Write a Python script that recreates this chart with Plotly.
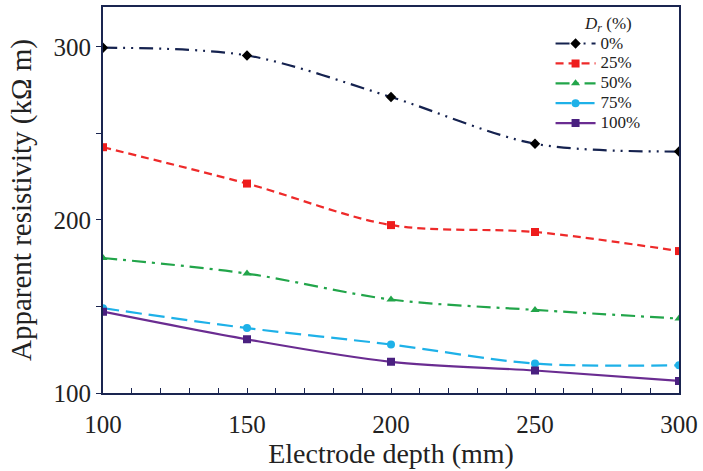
import plotly.graph_objects as go

depth = [100, 150, 200, 250, 300]
dr_labels = ["0%", "25%", "50%", "75%", "100%"]
r0 = [299.5, 295, 271, 244, 239.5]
r25 = [242, 221, 197, 193, 182]
r50 = [178, 169, 154, 148, 143]
r75 = [149, 137.5, 128, 117, 116]
r100 = [147, 131, 118, 113, 107]
series = [r0, r25, r50, r75, r100]

colors = ["#15224f", "#ee2a2a", "#22a54a", "#1eb1e8", "#6a2c91"]
markercolors = ["#000000", "#ee1c1c", "#22a54a", "#1eb1e8", "#4a2080"]
symbols = ["diamond", "square", "triangle-up", "circle", "square-x"]
dashes = ["14px,6px,2px,6px,2px,6px", "8px,5px", "14px,6px,3px,6px", "16px,7px", "solid"]

fig = go.Figure()
for name, ys, c, mc, sym, d in zip(dr_labels, series, colors, markercolors, symbols, dashes):
    fig.add_trace(go.Scatter(
        x=depth, y=ys, name='<span style="font-size:17px">' + name + '</span>',
        mode="lines+markers",
        line=dict(color=c, width=2.2, dash=d, shape="spline", smoothing=0.9),
        marker=dict(color=mc, symbol=sym, size=8, line=dict(width=0)),
    ))

font_family = "Liberation Serif, Times New Roman, serif"
axis_col = "#1a2550"
pad = "&nbsp;" * 10
fig.update_layout(
    width=703, height=471,
    margin=dict(l=103, r=24, t=5, b=78),
    paper_bgcolor="white", plot_bgcolor="white",
    font=dict(family=font_family, color="#222222"),
    showlegend=True,
    legend=dict(
        x=0.777, y=0.988, xanchor="left", yanchor="top",
        bgcolor="rgba(0,0,0,0)", borderwidth=0,
        font=dict(size=13, family=font_family, color="#222222"),
        title=dict(text=pad + '<span style="font-size:17px"><i>D</i><sub><i>r</i></sub> (%)</span>',
                   font=dict(size=13, family=font_family, color="#222222")),
        tracegroupgap=0, itemwidth=40,
    ),
    xaxis=dict(
        range=[100, 300], tickvals=[100, 150, 200, 250, 300],
        ticks="inside", ticklen=5, tickwidth=1, tickcolor=axis_col,
        minor=dict(dtick=10, ticks="inside", ticklen=5, tickcolor=axis_col),
        showline=True, linecolor=axis_col, linewidth=2, mirror=True,
        showgrid=False, zeroline=False,
        tickfont=dict(size=25, family=font_family),
        ticklabelstandoff=8,
        title=dict(text="Electrode depth (mm)", font=dict(size=28, family=font_family), standoff=4),
    ),
    yaxis=dict(
        range=[100, 323], tickvals=[100, 150, 200, 250, 300],
        ticktext=["100", "", "200", "", "300"],
        ticks="outside", ticklen=5, tickwidth=1, tickcolor=axis_col,
        showline=True, linecolor=axis_col, linewidth=2, mirror=True,
        showgrid=False, zeroline=False,
        tickfont=dict(size=25, family=font_family),
        title=dict(text="Apparent resistivity (kΩ m)", font=dict(size=29, family=font_family), standoff=13),
    ),
)

fig.write_html("out.html")
